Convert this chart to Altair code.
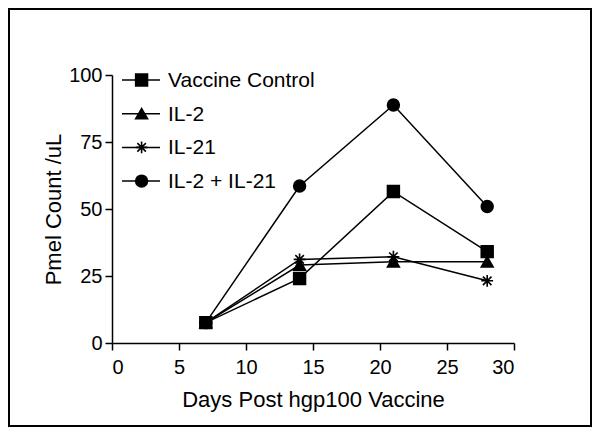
import altair as alt
import pandas as pd

days = [7, 14, 21, 28]
series_names = ["Vaccine Control", "IL-2", "IL-21", "IL-2 + IL-21"]
vaccine_control = [7.6, 24.1, 56.5, 34.1]
il2 = [7.6, 29.1, 30.3, 30.3]
il21 = [7.6, 31.2, 32.2, 23.2]
il2_il21 = [7.6, 58.6, 88.8, 50.9]

x_ticks = [0, 5, 10, 15, 20, 25, 30]
y_ticks = [0, 25, 50, 75, 100]

values = [vaccine_control, il2, il21, il2_il21]
rows = []
for name, vals in zip(series_names, values):
    for d, v in zip(days, vals):
        rows.append({"series": name, "day": d, "count": v})
df = pd.DataFrame(rows)
legend_df = pd.DataFrame({"series": series_names, "row": list(range(len(series_names)))})

FONT = "Liberation Sans"
asterisk = "M-1,0L1,0M0,-1L0,1M-0.72,-0.72L0.72,0.72M-0.72,0.72L0.72,-0.72"
shape_scale = alt.Scale(domain=series_names,
                        range=["square", "triangle-up", asterisk, "circle"])

x_enc = alt.X("day:Q", scale=alt.Scale(domain=[0, 30], nice=False),
              axis=alt.Axis(values=x_ticks, title="Days Post hgp100 Vaccine",
                            titlePadding=12, labelPadding=7))
y_enc = alt.Y("count:Q", scale=alt.Scale(domain=[0, 100], nice=False),
              axis=alt.Axis(values=y_ticks, title="Pmel Count /uL",
                            titlePadding=3, labelPadding=3))

base = alt.Chart(df)
lines = base.mark_line(color="black", strokeWidth=1.5).encode(
    x=x_enc, y=y_enc, detail="series:N")
points = base.mark_point(filled=True, color="black", fill="black", stroke="black",
                         strokeWidth=1.6, size=140, opacity=1).encode(
    x="day:Q", y="count:Q",
    shape=alt.Shape("series:N", scale=shape_scale, legend=None))

leg = alt.Chart(legend_df).transform_calculate(py="5 + datum.row * 33.7")
leg_rule = leg.mark_rule(color="black", strokeWidth=1.5).encode(
    x=alt.value(10), x2=alt.value(48), y=alt.Y("py:Q", scale=None))
leg_pt = leg.mark_point(filled=True, color="black", fill="black", stroke="black",
                        strokeWidth=1.6, size=140, opacity=1).encode(
    x=alt.value(29.6), y=alt.Y("py:Q", scale=None),
    shape=alt.Shape("series:N", scale=shape_scale, legend=None))
leg_txt = leg.mark_text(align="left", baseline="middle", font=FONT, fontSize=21,
                        color="black", dx=0, dy=1).encode(
    x=alt.value(56), y=alt.Y("py:Q", scale=None), text="series:N")

frame = alt.Chart(legend_df).mark_rect(filled=False, fill=None, stroke="black",
                                       strokeWidth=2).encode(
    x=alt.value(-103), x2=alt.value(479), y=alt.value(-66), y2=alt.value(351))

chart = alt.layer(frame, lines, points, leg_rule, leg_pt, leg_txt).properties(
    width=402, height=268,
    autosize=alt.AutoSizeParams(type="none"),
    padding={"left": 104, "top": 67, "right": 78, "bottom": 85},
).configure_view(stroke=None).configure_axis(
    grid=False, domainColor="black", domainWidth=1.5, tickColor="black",
    tickWidth=1.5, tickSize=7, labelFont=FONT, labelFontSize=20,
    labelColor="black", titleFont=FONT, titleFontSize=22,
    titleFontWeight="normal", titleColor="black",
)

chart.save("out.html", embed_options={"renderer": "svg", "actions": False})
